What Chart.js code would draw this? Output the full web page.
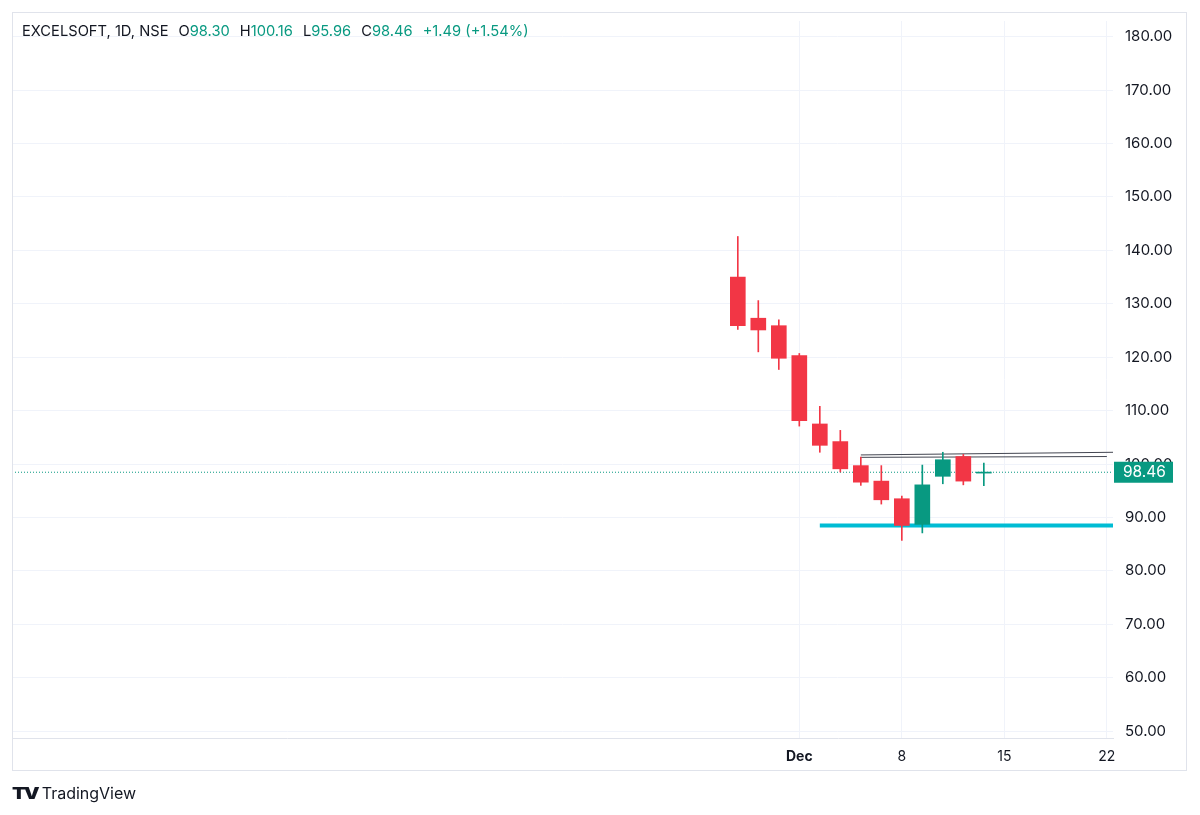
<!DOCTYPE html>
<html lang="en">
<head>
  <meta charset="UTF-8" />
  <title>EXCELSOFT, 1D, NSE</title>
  <script src="https://cdn.jsdelivr.net/npm/chart.js"></script>
  <style>
    html, body { margin: 0; padding: 0; background: #fff; }
    body { width: 1200px; height: 815px; position: relative; overflow: hidden;
           font-family: Inter, Roboto, "Noto Sans", sans-serif; }
    #wrap { position: absolute; left: 0; top: 0; width: 1200px; height: 815px; }
    #legend { position: absolute; left: 22px; top: 22px; font-size: 14.7px; color: #131722; }
    #legend .v { color: #089981; margin-right: 10px; }
    #legend .n { margin-right: 10px; }
    #logo { position: absolute; left: 12px; top: 783px; font-size: 16px; color: #131722; display: flex; align-items: center; }
    #logo b { font-weight: 900; font-size: 16px; letter-spacing: -1.5px; margin-right: 9px; transform: scaleX(1.25); transform-origin: left; }
  </style>
</head>
<body>
  <div id="wrap"><canvas id="chart" width="1200" height="815"></canvas></div>
  <div id="legend">
    <span class="n">EXCELSOFT, 1D, NSE</span>O<span class="v">98.30</span>H<span class="v">100.16</span>L<span class="v">95.96</span>C<span class="v">98.46</span><span class="v">+1.49 (+1.54%)</span>
  </div>
  <div id="logo"><b>TV</b>TradingView</div>

<script>
  // daily candles, trading days only (index 0 = Nov 26)
  const dates  = ['Nov 26','Nov 27','Nov 28','Dec 1','Dec 2','Dec 3','Dec 4','Dec 5','Dec 8','Dec 9','Dec 10','Dec 11','Dec 12'];
  const opens  = [135.0, 127.3, 125.9, 120.3, 107.5, 104.2, 99.7, 96.8, 93.5, 88.7, 97.7, 101.4, 98.30];
  const highs  = [142.6, 130.6, 127.0, 120.7, 110.8, 106.3, 101.3, 99.7, 94.0, 99.8, 102.2, 101.8, 100.16];
  const lows   = [125.2, 121.0, 117.7, 107.1, 102.2, 98.5, 96.0, 92.5, 85.7, 87.1, 96.3, 96.1, 95.96];
  const closes = [125.9, 125.1, 119.8, 108.1, 103.5, 99.1, 96.6, 93.3, 88.5, 96.1, 100.8, 96.8, 98.46];

  const xTickPos    = [3, 8, 13, 18];
  const xTickLabels = ['Dec', '8', '15', '22'];
  const yTicks      = [50, 60, 70, 80, 90, 100, 110, 120, 130, 140, 150, 160, 170, 180];

  // drawings on the chart
  const supportLine = [{ x: 4, y: 88.5 }, { x: 18.4, y: 88.5 }];
  const trendUpper  = [{ x: 6, y: 101.7 }, { x: 18.4, y: 102.2 }];
  const trendLower  = [{ x: 6, y: 101.25 }, { x: 18, y: 101.4 }];

  const X_MIN = -35.4, X_MAX = 18.3;
  const Y_MIN = 48.7, Y_MAX = 182.95;

  const UP = '#089981', DOWN = '#f23645';
  const lastClose = closes[closes.length - 1];
  const colorOf = i => closes[i] >= opens[i] ? UP : DOWN;

  const bodies = dates.map((d, i) => ({ x: i, y: [opens[i], closes[i]] }));
  const wicks  = dates.map((d, i) => ({ x: i, y: [lows[i], highs[i]] }));

  const framePlugin = {
    id: 'frame',
    afterDraw(chart) {
      const c = chart.ctx, y = chart.scales.y, area = chart.chartArea;
      c.save();
      c.strokeStyle = '#e0e3eb';
      c.lineWidth = 1;
      c.strokeRect(12.5, 12.5, 1174, 758);
      // last price label
      const py = y.getPixelForValue(lastClose);
      c.fillStyle = UP;
      c.fillRect(area.right + 1, py - 10.5, 59, 21);
      c.fillStyle = '#fff';
      c.font = '15.5px Inter, Roboto, sans-serif';
      c.textBaseline = 'middle';
      c.textAlign = 'left';
      c.fillText(lastClose.toFixed(2), area.right + 10, py + 0.5);
      c.restore();
    }
  };

  new Chart(document.getElementById('chart').getContext('2d'), {
    data: {
      datasets: [
        { type: 'bar', label: 'body', data: bodies, grouped: false, order: 0,
          backgroundColor: bodies.map((b, i) => colorOf(i)), barThickness: 15, minBarLength: 1, borderWidth: 0 },
        { type: 'bar', label: 'wick', data: wicks, grouped: false, order: 1,
          backgroundColor: wicks.map((w, i) => colorOf(i)), barThickness: 1, borderWidth: 0 },
        { type: 'line', label: 'last', data: [{ x: X_MIN, y: lastClose }, { x: X_MAX, y: lastClose }], order: 3,
          borderColor: UP, borderWidth: 1, borderDash: [1, 2], pointRadius: 0 },
        { type: 'line', label: 'support', data: supportLine, order: 2,
          borderColor: '#00bcd4', borderWidth: 4, pointRadius: 0 },
        { type: 'line', label: 'trend1', data: trendUpper, order: 2,
          borderColor: '#434651', borderWidth: 1, pointRadius: 0 },
        { type: 'line', label: 'trend2', data: trendLower, order: 2,
          borderColor: '#434651', borderWidth: 1, pointRadius: 0 }
      ]
    },
    options: {
      responsive: false,
      animation: false,
      events: [],
      layout: { padding: { left: 12, top: 12, right: 13, bottom: 44 } },
      plugins: { legend: { display: false }, tooltip: { enabled: false } },
      scales: {
        x: {
          type: 'linear', min: X_MIN, max: X_MAX, offset: false,
          afterBuildTicks: s => { s.ticks = xTickPos.map(v => ({ value: v })); },
          afterFit: s => { s.height = 33; },
          grid: { color: '#f0f3fa', drawTicks: false, offset: false },
          border: { color: '#e0e3eb' },
          ticks: {
            padding: 10, color: '#131722', maxRotation: 0, autoSkip: false,
            font: ctx => ({ family: 'Inter, Roboto, sans-serif', size: 14,
                            weight: ctx.tick && ctx.tick.value === 3 ? 'bold' : 'normal' }),
            callback: v => xTickLabels[xTickPos.indexOf(v)]
          }
        },
        y: {
          type: 'linear', position: 'right', min: Y_MIN, max: Y_MAX,
          afterBuildTicks: s => { s.ticks = yTicks.map(v => ({ value: v })); },
          afterFit: s => { s.width = 74; },
          grid: { color: '#f0f3fa', drawTicks: false },
          border: { display: false },
          ticks: {
            padding: 12, color: '#131722',
            font: { family: 'Inter, Roboto, sans-serif', size: 15 },
            callback: v => v.toFixed(2)
          }
        }
      }
    },
    plugins: [framePlugin]
  });
</script>
</body>
</html>
